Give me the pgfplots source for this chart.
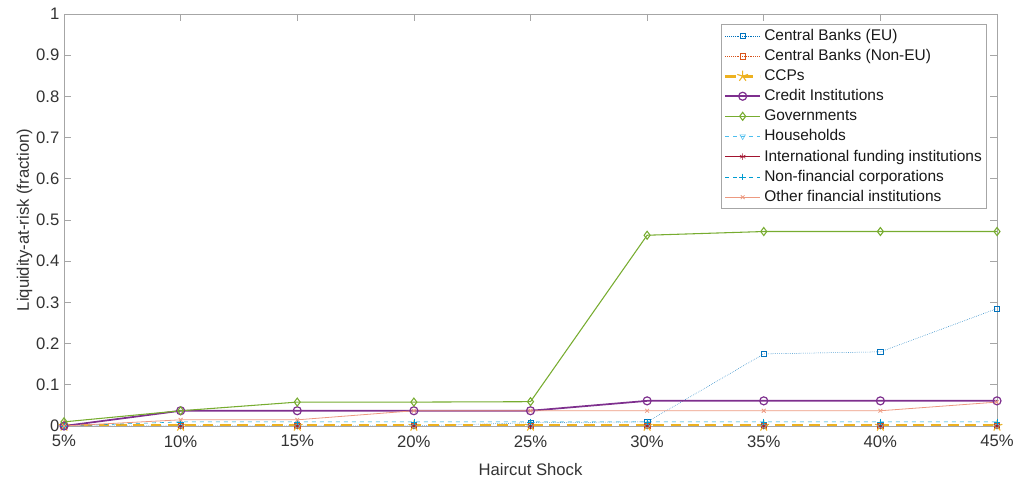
\documentclass[border=0pt]{standalone}
\usepackage{fontspec}
\setmainfont{Liberation Sans}
\usepackage{pgfplots}
\pgfplotsset{compat=1.18}
\definecolor{mblue}{rgb}{0,0.447,0.741}
\definecolor{morange}{rgb}{0.85,0.325,0.098}
\definecolor{myellow}{rgb}{0.929,0.694,0.125}
\definecolor{mpurple}{rgb}{0.494,0.184,0.556}
\definecolor{mgreen}{rgb}{0.466,0.674,0.188}
\definecolor{mcyan}{rgb}{0.301,0.745,0.933}
\definecolor{mred}{rgb}{0.635,0.078,0.184}
\definecolor{msalmon}{rgb}{0.93,0.6,0.5}
\begin{document}
\begin{tikzpicture}[x=1pt,y=1pt]
\useasboundingbox (-48pt,-43.5pt) rectangle (717.75pt,319.5pt);
\begin{axis}[
  at={(0,0)}, anchor=south west,
  scale only axis, width=699.75pt, height=309pt,
  xmin=5, xmax=45, ymin=0, ymax=1,
  xtick={5,10,...,45},
  xticklabels={5\%,10\%,15\%,20\%,25\%,30\%,35\%,40\%,45\%},
  ytick={0,0.1,...,1.0},
  yticklabels={0,0.1,0.2,0.3,0.4,0.5,0.6,0.7,0.8,0.9,1},
  tick align=inside, major tick length=5pt,
  axis line style={gray!70, line width=0.5pt},
  every tick/.style={gray!70, line width=0.5pt},
  tick label style={font=\fontsize{12.5}{14}\selectfont, text=black!80},
  xticklabel style={yshift=-3.5pt},
  /pgf/number format/assume math mode=true,
  xlabel={Haircut Shock}, ylabel={Liquidity-at-risk (fraction)},
  label style={font=\fontsize{12.5}{14}\selectfont, text=black!80},
  xlabel style={yshift=-5pt},
  ylabel style={yshift=-4pt},
  legend style={at={(0.989,0.975)}, anchor=north east, draw=gray!70,
    font=\fontsize{11.6}{13.5}\selectfont, text=black!90, row sep=1.3pt,
    inner sep=1.5pt, cells={anchor=west}},
  legend cell align=left,
  legend image code/.code={\draw[mark repeat=2,mark phase=2] plot coordinates {(0pt,0pt) (13pt,0pt) (26pt,0pt)};},
  every axis plot/.append style={mark size=2.4pt},
]
\addplot[mblue, densely dotted, mark=square, mark options={solid, mark size=2pt}] coordinates
  {(5,0) (10,0) (15,0) (20,0) (25,0.008) (30,0.01) (35,0.175) (40,0.18) (45,0.285)};
\addlegendentry{Central Banks (EU)}
\addplot[morange, densely dotted, mark=square, mark options={solid, mark size=2pt}] coordinates
  {(5,0) (10,0) (15,0) (20,0) (25,0) (30,0) (35,0) (40,0) (45,0)};
\addlegendentry{Central Banks (Non-EU)}
\addplot[myellow, line width=2.4pt, dash pattern=on 8pt off 5pt, mark=star, mark options={solid, line width=0.8pt, mark size=4.2pt}] coordinates
  {(5,0) (10,0) (15,0) (20,0) (25,0) (30,0) (35,0) (40,0) (45,0)};
\addlegendentry{CCPs}
\addplot[mpurple, line width=1.3pt, mark=o, mark options={line width=0.9pt, mark size=3pt}] coordinates
  {(5,0) (10,0.037) (15,0.037) (20,0.037) (25,0.037) (30,0.061) (35,0.061) (40,0.061) (45,0.061)};
\addlegendentry{Credit Institutions}
\addplot[mgreen, line width=0.8pt, mark=diamond, mark options={mark size=3pt}] coordinates
  {(5,0.01) (10,0.037) (15,0.058) (20,0.058) (25,0.059) (30,0.463) (35,0.472) (40,0.472) (45,0.472)};
\addlegendentry{Governments}
\addplot[mcyan, dashed, mark=triangle, mark options={solid, rotate=180}] coordinates
  {(5,0) (10,0) (15,0) (20,0) (25,0) (30,0) (35,0) (40,0) (45,0)};
\addlegendentry{Households}
\addplot[mred, mark=asterisk] coordinates
  {(5,0) (10,0) (15,0) (20,0) (25,0) (30,0) (35,0) (40,0) (45,0)};
\addlegendentry{International funding institutions}
\addplot[mblue!70!cyan, dashed, mark=+, mark options={solid}] coordinates
  {(5,0) (10,0.01) (15,0.01) (20,0.01) (25,0.01) (30,0.01) (35,0.01) (40,0.01) (45,0.01)};
\addlegendentry{Non-financial corporations}
\addplot[msalmon, line width=0.6pt, mark=x, mark options={mark size=2pt}] coordinates
  {(5,0) (10,0.015) (15,0.015) (20,0.037) (25,0.037) (30,0.037) (35,0.037) (40,0.037) (45,0.058)};
\addlegendentry{Other financial institutions}
\end{axis}
\end{tikzpicture}
\end{document}
